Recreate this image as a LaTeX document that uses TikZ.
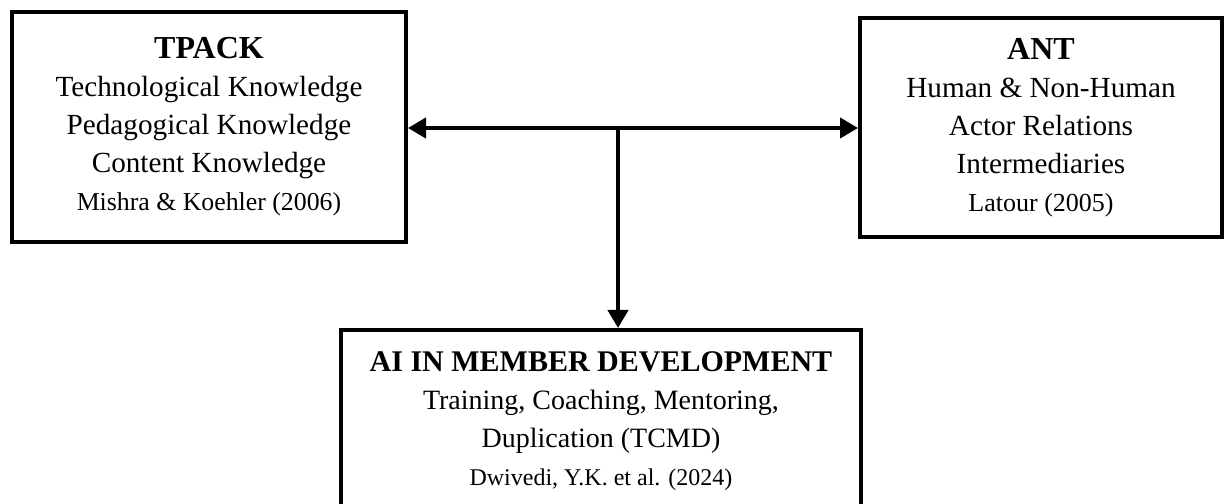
\documentclass[tikz,border=0pt]{standalone}
\usepackage{fontspec}
\setmainfont{Liberation Serif}
\usetikzlibrary{arrows.meta}
\usetikzlibrary{positioning}

\begin{document}
\begin{tikzpicture}[x=0.5pt,y=0.5pt,
        box/.style = {draw, line width=2pt, align=center, inner sep=0pt, font=\fontsize{14}{19}\selectfont},
        topbox/.style = {box, font=\fontsize{14.6}{19}\selectfont},
        link/.style = {line width=2pt, -{Triangle[length=9pt,width=10pt]}}]
            \useasboundingbox (0,0) rectangle (1228,504);

            \node at (209,377) [topbox, minimum width=197pt, minimum height=115pt] (tpack) {%
                {\fontsize{16}{19}\selectfont\bfseries TPACK}\\
                Technological Knowledge\\
                Pedagogical Knowledge\\
                Content Knowledge\\
                {\fontsize{12.9}{17}\selectfont Mishra \& Koehler (2006)}};

            \node at (1041,376.5) [topbox, minimum width=181pt, minimum height=109.5pt] (ant) {%
                {\fontsize{16}{19}\selectfont\bfseries ANT}\\
                Human \& Non-Human\\
                Actor Relations\\
                Intermediaries\\
                {\fontsize{13}{17}\selectfont Latour (2005)}};

            \node at (601,82.5) [box, minimum width=260pt, minimum height=91.5pt] (aimd) {%
                {\fontsize{15}{19}\selectfont\bfseries AI IN MEMBER DEVELOPMENT}\\
                Training, Coaching, Mentoring,\\
                Duplication (TCMD)\\
                {\fontsize{12}{17}\selectfont Dwivedi, Y.K. et al. (2024)}};

            \coordinate (mid) at (618,376);

            \draw [link] (mid) -- (tpack.east |- mid);
            \draw [link] (mid) -- (ant.west |- mid);
            \draw [link] (mid) -- (aimd.north -| mid);
        \end{tikzpicture}
\end{document}
